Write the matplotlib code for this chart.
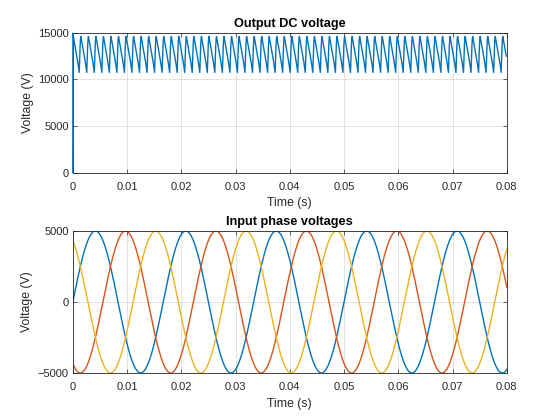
import numpy as np
import matplotlib.pyplot as plt

plt.rcParams['font.family'] = ['Liberation Sans', 'DejaVu Sans']

# Output DC voltage: 12-pulse ripple (720 Hz), one tooth
ripple_freq = 720.0          # Hz
t_end = 0.08                 # s
peak_lag = 0.0001            # s, peak position after k/720
tooth_frac = [0.0, 0.15, 0.3, 0.45, 0.6, 0.78, 0.84, 0.9, 0.95]
tooth_volt = [14600, 13900, 13200, 12500, 11800, 10750, 12300, 13600, 14300]
dc_start_t = [0.0, 0.00002]
dc_start_v = [0.0, 14950.0]

# Input phase voltages
phase_amp = 5000.0           # V
line_freq = 60.0             # Hz
phase_deg = [0.0, -120.0, 120.0]

blue = (0.0, 0.447, 0.741)
red = (0.85, 0.325, 0.098)
yellow = (0.929, 0.694, 0.125)
colors = [blue, red, yellow]
axcol = (0.15, 0.15, 0.15)

# build DC trace from the tooth points
period = 1.0 / ripple_freq
n_teeth = int(t_end / period) + 2
dc_t = list(dc_start_t)
dc_v = list(dc_start_v)
for k in range(n_teeth):
    for f, v in zip(tooth_frac, tooth_volt):
        tt = peak_lag + (k + f) * period
        if tt > dc_t[-1] and tt <= t_end:
            dc_t.append(tt)
            dc_v.append(v)
dc_t = np.array(dc_t)
dc_v = np.array(dc_v)

t = np.linspace(0, t_end, 2000)

fig = plt.figure(figsize=(5.6, 4.2), dpi=100)
ax1 = fig.add_axes([0.13, 0.589, 0.775, 0.333])
ax2 = fig.add_axes([0.13, 0.112, 0.775, 0.338])

# not clipped so the start-up step sits on top of the left spine
ax1.plot(dc_t, dc_v, color=blue, lw=1.0, zorder=3, clip_on=False)
for ph, c in zip(phase_deg, colors):
    ax2.plot(t, phase_amp * np.sin(2 * np.pi * line_freq * t + np.deg2rad(ph)), color=c, lw=1.0)

ax1.set(xlim=(0, t_end), ylim=(0, 15000))
ax1.set_yticks([0, 5000, 10000, 15000])
ax1.set_title('Output DC voltage', fontsize=9.2, fontweight='bold', pad=4.5)
ax2.set(xlim=(0, t_end), ylim=(-5000, 5000))
ax2.set_yticks([-5000, 0, 5000])
ax2.set_title('Input phase voltages', fontsize=9.2, fontweight='bold', pad=4)

for ax in (ax1, ax2):
    ax.set_xticks(np.arange(0, 0.0801, 0.01))
    ax.set_xticklabels(['0'] + ['%.2f' % v for v in np.arange(0.01, 0.0801, 0.01)])
    ax.set_xlabel('Time (s)', fontsize=8.8, color=axcol, labelpad=4)
    ax.set_ylabel('Voltage (V)', fontsize=8.8, color=axcol, labelpad=3)
    ax.grid(True, color=(0.15, 0.15, 0.15), alpha=0.15, lw=0.6)
    ax.set_axisbelow(True)
    ax.tick_params(direction='in', length=3, width=0.5, colors=axcol,
                   labelsize=8, top=True, right=True)
    ax.tick_params(axis='x', pad=6.5)
    ax.tick_params(axis='y', pad=3)
    for s in ax.spines.values():
        s.set_color(axcol)
        s.set_linewidth(0.6)

plt.savefig('out.png', dpi=100)
